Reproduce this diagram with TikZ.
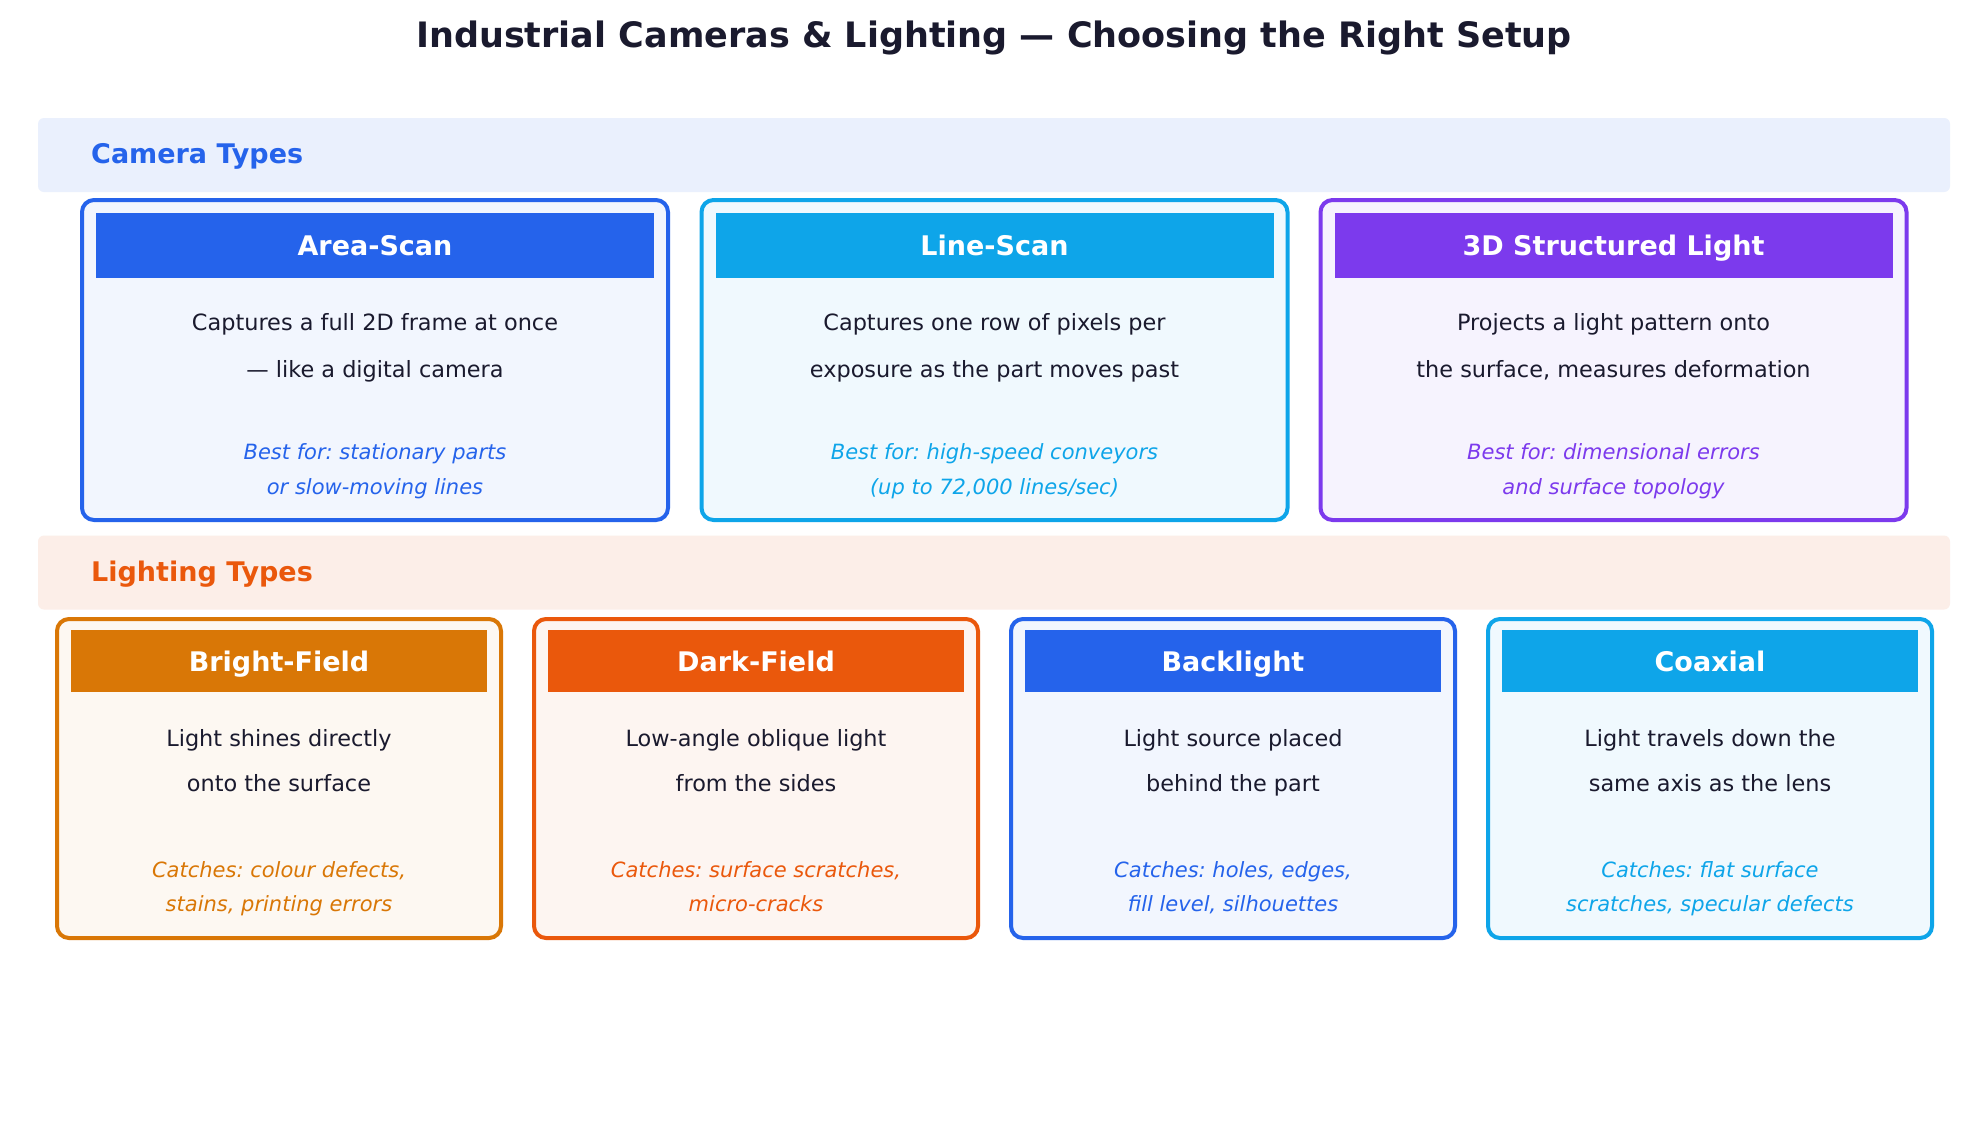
\documentclass[tikz,border=0pt]{standalone}
\usepackage{fontspec}
\setmainfont{DejaVu Sans}
\usepackage{tikz}
\frenchspacing

\definecolor{ink}{HTML}{1A1A2E}
\definecolor{cblue}{HTML}{2563EB}
\definecolor{csky}{HTML}{0EA5E9}
\definecolor{cviolet}{HTML}{7C3AED}
\definecolor{camber}{HTML}{D97706}
\definecolor{corange}{HTML}{EA580C}
\definecolor{fblue}{HTML}{F2F6FE}
\definecolor{fsky}{HTML}{F0F9FE}
\definecolor{fviolet}{HTML}{F6F3FE}
\definecolor{famber}{HTML}{FDF8F2}
\definecolor{forange}{HTML}{FDF5F1}
\definecolor{bandblue}{HTML}{EAF0FD}
\definecolor{bandorange}{HTML}{FCEEE8}

\begin{document}
\begin{tikzpicture}[x=1pt,y=-1pt,
    band node/.style={rectangle,rounded corners=6pt,inner sep=0pt,
      minimum width=1912pt,minimum height=74pt},
    band label/.style={anchor=west,inner sep=0pt,text height=20pt,text depth=3pt,
      font=\fontsize{27}{32}\selectfont\bfseries},
    card node/.style={rectangle,rounded corners=12pt,line width=4pt,inner sep=0pt},
    head node/.style={rectangle,inner sep=0pt,text=white,text height=20pt,text depth=0pt,
      font=\fontsize{27}{32}\selectfont\bfseries},
    desc node/.style={align=center,inner sep=0pt,text=ink},
    note node/.style={align=center,inner sep=0pt,font=\fontsize{21}{35}\selectfont\itshape}]

  \useasboundingbox[fill=white] (0,0) rectangle (1988,1146);

  % title
  \node[text=ink,font=\fontsize{35}{42}\selectfont\bfseries] (title) at (994,38)
    {Industrial Cameras \& Lighting — Choosing the Right Setup};

  % camera types
  \node[band node,fill=bandblue] (camband) at (994,155) {};
  \node[band label,text=cblue] (camlabel) at (91,155) {Camera Types};

  \node[card node,draw=cblue,fill=fblue,minimum width=586pt,minimum height=320pt] (area) at (375,360) {};
  \node[head node,fill=cblue,minimum width=558pt,minimum height=65pt] (area head) at (375,245.5) {Area-Scan};
  \node[desc node,font=\fontsize{22.4}{47}\selectfont] (area desc) at (375,344.3)
    {\strut Captures a full 2D frame at once\\— like a digital camera\strut};
  \node[note node,text=cblue] (area note) at (375,469.5)
    {\strut Best for: stationary parts\\or slow-moving lines\strut};

  \node[card node,draw=csky,fill=fsky,minimum width=586pt,minimum height=320pt] (line) at (994.5,360) {};
  \node[head node,fill=csky,minimum width=558pt,minimum height=65pt] (line head) at (994.5,245.5) {Line-Scan};
  \node[desc node,font=\fontsize{22.4}{47}\selectfont] (line desc) at (994.5,344.3)
    {\strut Captures one row of pixels per\\exposure as the part moves past\strut};
  \node[note node,text=csky] (line note) at (994.5,469.5)
    {\strut Best for: high-speed conveyors\\(up to 72,000 lines/sec)\strut};

  \node[card node,draw=cviolet,fill=fviolet,minimum width=586pt,minimum height=320pt] (struct) at (1613.5,360) {};
  \node[head node,fill=cviolet,minimum width=558pt,minimum height=65pt] (struct head) at (1613.5,245.5) {3D Structured Light};
  \node[desc node,font=\fontsize{22.4}{47}\selectfont] (struct desc) at (1613.5,344.3)
    {\strut Projects a light pattern onto\\the surface, measures deformation\strut};
  \node[note node,text=cviolet] (struct note) at (1613.5,469.5)
    {\strut Best for: dimensional errors\\and surface topology\strut};

  % lighting types
  \node[band node,fill=bandorange] (lightband) at (994,572.5) {};
  \node[band label,text=corange] (lightlabel) at (91,572.5) {Lighting Types};

  \node[card node,draw=camber,fill=famber,minimum width=444pt,minimum height=319pt] (bright) at (279,778.5) {};
  \node[head node,fill=camber,minimum width=416pt,minimum height=62pt] (bright head) at (279,661) {Bright-Field};
  \node[desc node,font=\fontsize{22.4}{45}\selectfont] (bright desc) at (279,759.8)
    {\strut Light shines directly\\onto the surface\strut};
  \node[note node,text=camber,font=\fontsize{21}{34}\selectfont\itshape] (bright note) at (279,887.7)
    {\strut Catches: colour defects,\\stains, printing errors\strut};

  \node[card node,draw=corange,fill=forange,minimum width=444pt,minimum height=319pt] (dark) at (756,778.5) {};
  \node[head node,fill=corange,minimum width=416pt,minimum height=62pt] (dark head) at (756,661) {Dark-Field};
  \node[desc node,font=\fontsize{22.4}{45}\selectfont] (dark desc) at (756,759.8)
    {\strut Low-angle oblique light\\from the sides\strut};
  \node[note node,text=corange,font=\fontsize{21}{34}\selectfont\itshape] (dark note) at (756,887.7)
    {\strut Catches: surface scratches,\\micro-cracks\strut};

  \node[card node,draw=cblue,fill=fblue,minimum width=444pt,minimum height=319pt] (back) at (1233,778.5) {};
  \node[head node,fill=cblue,minimum width=416pt,minimum height=62pt] (back head) at (1233,661) {Backlight};
  \node[desc node,font=\fontsize{22.4}{45}\selectfont] (back desc) at (1233,759.8)
    {\strut Light source placed\\behind the part\strut};
  \node[note node,text=cblue,font=\fontsize{21}{34}\selectfont\itshape] (back note) at (1233,887.7)
    {\strut Catches: holes, edges,\\fill level, silhouettes\strut};

  \node[card node,draw=csky,fill=fsky,minimum width=444pt,minimum height=319pt] (coax) at (1710,778.5) {};
  \node[head node,fill=csky,minimum width=416pt,minimum height=62pt] (coax head) at (1710,661) {Coaxial};
  \node[desc node,font=\fontsize{22.4}{45}\selectfont] (coax desc) at (1710,759.8)
    {\strut Light travels down the\\same axis as the lens\strut};
  \node[note node,text=csky,font=\fontsize{21}{34}\selectfont\itshape] (coax note) at (1710,887.7)
    {\strut Catches: flat surface\\scratches, specular defects\strut};
\end{tikzpicture}
\end{document}
